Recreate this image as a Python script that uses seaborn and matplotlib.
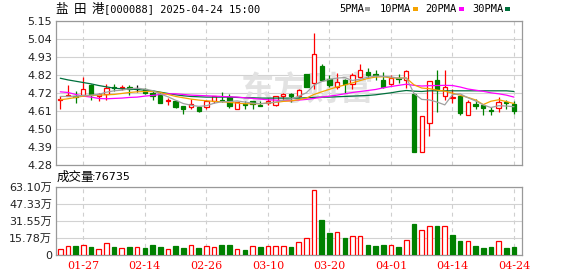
import numpy as np
import matplotlib
matplotlib.use("Agg")
import matplotlib.pyplot as plt
import seaborn as sns
from matplotlib.patches import Rectangle

# ---------------- data ----------------
opens = [4.672, 4.700, 4.700, 4.704, 4.766, 4.700, 4.712, 4.755, 4.748, 4.756,
         4.742, 4.740, 4.716, 4.704, 4.668, 4.670, 4.640, 4.635, 4.635, 4.631,
         4.668, 4.676, 4.692, 4.623, 4.648, 4.666, 4.646, 4.656, 4.642, 4.700,
         4.712, 4.696, 4.832, 4.776, 4.877, 4.800, 4.756, 4.796, 4.772, 4.816,
         4.845, 4.830, 4.796, 4.770, 4.810, 4.796, 4.712, 4.358, 4.535, 4.796,
         4.696, 4.685, 4.700, 4.583, 4.652, 4.646, 4.615, 4.626, 4.660, 4.652]
highs = [4.696, 4.766, 4.726, 4.812, 4.772, 4.715, 4.772, 4.772, 4.764, 4.766,
         4.764, 4.748, 4.726, 4.720, 4.686, 4.675, 4.640, 4.680, 4.640, 4.676,
         4.700, 4.724, 4.712, 4.664, 4.666, 4.670, 4.670, 4.684, 4.698, 4.714,
         4.714, 4.740, 4.832, 5.082, 4.891, 4.826, 4.840, 4.800, 4.836, 4.893,
         4.865, 4.853, 4.846, 4.826, 4.830, 4.857, 4.716, 4.575, 4.792, 4.857,
         4.857, 4.740, 4.700, 4.676, 4.680, 4.650, 4.633, 4.692, 4.676, 4.666]
lows = [4.623, 4.700, 4.656, 4.700, 4.676, 4.668, 4.676, 4.730, 4.736, 4.704,
        4.724, 4.708, 4.676, 4.656, 4.642, 4.625, 4.591, 4.620, 4.605, 4.621,
        4.656, 4.662, 4.626, 4.620, 4.620, 4.620, 4.638, 4.646, 4.640, 4.666,
        4.660, 4.690, 4.756, 4.742, 4.790, 4.756, 4.740, 4.716, 4.742, 4.806,
        4.806, 4.796, 4.746, 4.766, 4.776, 4.746, 4.358, 4.358, 4.455, 4.605,
        4.672, 4.656, 4.583, 4.583, 4.623, 4.581, 4.581, 4.605, 4.621, 4.591]
closes = [4.680, 4.705, 4.695, 4.742, 4.706, 4.710, 4.750, 4.745, 4.752, 4.740,
          4.742, 4.716, 4.700, 4.656, 4.672, 4.635, 4.620, 4.650, 4.610, 4.668,
          4.700, 4.668, 4.640, 4.664, 4.642, 4.652, 4.640, 4.670, 4.698, 4.712,
          4.696, 4.736, 4.756, 4.953, 4.796, 4.766, 4.784, 4.772, 4.826, 4.855,
          4.828, 4.825, 4.756, 4.806, 4.800, 4.847, 4.358, 4.575, 4.792, 4.736,
          4.752, 4.690, 4.595, 4.664, 4.640, 4.626, 4.611, 4.660, 4.654, 4.611]
volumes = [56000, 87000, 87000, 93000, 75000, 56000, 109000, 75000, 65000, 75000,
           75000, 65000, 93000, 75000, 56000, 84000, 65000, 93000, 65000, 84000,
           75000, 93000, 93000, 56000, 47000, 84000, 75000, 84000, 84000, 84000,
           75000, 118000, 156000, 598000, 327000, 206000, 212000, 156000, 174000, 174000,
           93000, 84000, 93000, 90000, 75000, 137000, 290000, 230000, 268000, 268000,
           268000, 187000, 131000, 128000, 84000, 65000, 75000, 128000, 65000, 76735]
ma5 = [4.696, 4.696, 4.698, 4.702, 4.704, 4.708, 4.722, 4.730, 4.734, 4.742,
       4.746, 4.740, 4.731, 4.711, 4.694, 4.673, 4.653, 4.643, 4.636, 4.640,
       4.655, 4.664, 4.665, 4.669, 4.662, 4.656, 4.652, 4.656, 4.662, 4.674,
       4.680, 4.697, 4.718, 4.765, 4.786, 4.799, 4.807, 4.810, 4.792, 4.801,
       4.812, 4.819, 4.817, 4.814, 4.806, 4.808, 4.714, 4.678, 4.675, 4.662,
       4.645, 4.707, 4.712, 4.688, 4.669, 4.645, 4.629, 4.640, 4.638, 4.634]
ma10 = [4.676, 4.682, 4.690, 4.698, 4.702, 4.704, 4.706, 4.708, 4.714, 4.720,
        4.724, 4.726, 4.726, 4.720, 4.708, 4.696, 4.688, 4.680, 4.674, 4.670,
        4.666, 4.664, 4.660, 4.656, 4.652, 4.652, 4.652, 4.656, 4.660, 4.666,
        4.669, 4.676, 4.686, 4.708, 4.724, 4.739, 4.754, 4.765, 4.778, 4.792,
        4.805, 4.813, 4.815, 4.808, 4.807, 4.807, 4.766, 4.747, 4.743, 4.734,
        4.728, 4.716, 4.703, 4.690, 4.675, 4.647, 4.667, 4.676, 4.665, 4.653]
ma20 = [4.724, 4.720, 4.708, 4.698, 4.692, 4.684, 4.682, 4.684, 4.686, 4.690,
        4.692, 4.698, 4.702, 4.708, 4.712, 4.712, 4.708, 4.704, 4.702, 4.700,
        4.698, 4.696, 4.694, 4.692, 4.688, 4.684, 4.680, 4.676, 4.674, 4.670,
        4.670, 4.674, 4.678, 4.684, 4.692, 4.698, 4.704, 4.712, 4.720, 4.726,
        4.732, 4.738, 4.748, 4.756, 4.763, 4.770, 4.763, 4.759, 4.761, 4.762,
        4.763, 4.762, 4.753, 4.741, 4.734, 4.727, 4.718, 4.712, 4.704, 4.692]
ma30 = [4.806, 4.796, 4.788, 4.780, 4.772, 4.762, 4.754, 4.746, 4.742, 4.740,
        4.738, 4.734, 4.730, 4.722, 4.714, 4.706, 4.700, 4.696, 4.694, 4.692,
        4.692, 4.692, 4.692, 4.690, 4.688, 4.688, 4.686, 4.686, 4.686, 4.686,
        4.686, 4.686, 4.688, 4.690, 4.692, 4.692, 4.694, 4.696, 4.698, 4.700,
        4.702, 4.706, 4.712, 4.718, 4.726, 4.732, 4.728, 4.726, 4.730, 4.730,
        4.730, 4.730, 4.730, 4.730, 4.730, 4.730, 4.730, 4.730, 4.730, 4.726]

date_tick_pos = [3, 11, 19, 27, 35, 43, 51, 59]
date_tick_labels = ["01-27", "02-14", "02-26", "03-10", "03-20", "04-01", "04-14", "04-24"]
price_min, price_max = 4.28, 5.15
price_tick_labels = ["4.28", "4.39", "4.50", "4.61", "4.72", "4.82", "4.93", "5.04", "5.15"]
vol_max = 631000
vol_tick_labels = ["0", "15.78万", "31.55万", "47.33万", "63.10万"]
ma_names = ["5PMA", "10PMA", "20PMA", "30PMA"]
ma_colors = ["#a0a0a0", "#f5a300", "#ff00ff", "#00703c"]
title_chars = ["盐", "田", "港"]
title_rest = "[000088] 2025-04-24 15:00"
vol_label = "成交量"
last_volume_text = ":76735"
watermark = "东方财富"

RED = "#ff0000"
GREEN = "#008000"

# ---------------- figure ----------------
sns.set_theme(style="white")
plt.rcParams["font.family"] = ["DejaVu Sans", "Noto Sans CJK SC"]

W, H = 578, 276
fig = plt.figure(figsize=(W / 100, H / 100), dpi=100)
fig.patch.set_facecolor("white")


def fx(px):
    return px / W


def fy(py):
    return 1 - py / H


L, R = 55.5, 522.3
ax1 = fig.add_axes([fx(L), fy(165.3), (R - L) / W, (165.3 - 21.3) / H])
ax2 = fig.add_axes([fx(L), fy(255.0), (R - L) / W, (255.0 - 186.8) / H])

n = len(closes)
x = np.arange(n)
o = np.array(opens)
c = np.array(closes)
h = np.array(highs)
lo = np.array(lows)
xlim = (-0.62, 60.08)

# ---- candles ----
up = c > o
down = c < o
cols = np.where(up, RED, np.where(down, GREEN, "black"))
faces = np.where(up, "white", cols)
body_lo = np.minimum(o, c)
body_hi = np.maximum(o, c)
ax1.vlines(x, body_hi, h, colors=cols, lw=0.9, zorder=3)
ax1.vlines(x, lo, body_lo, colors=cols, lw=0.9, zorder=3)
ax1.bar(x, body_hi - body_lo, bottom=body_lo, width=0.56, color=faces,
        edgecolor=cols, linewidth=0.9, zorder=4)

# ---- moving averages ----
for ma, col in zip([ma30, ma20, ma10, ma5], ma_colors[::-1]):
    sns.lineplot(x=x, y=ma, ax=ax1, color=col, lw=0.9, legend=False, zorder=5)

ax1.text((307 - L) / (R - L), (165.3 - 91) / 144, watermark, transform=ax1.transAxes,
         ha="center", va="center", fontsize=24, fontweight="bold",
         family=["Noto Sans CJK SC"], color="#e2e2e2", zorder=0.6)

ax1.set_xlim(*xlim)
ax1.set_ylim(price_min, price_max)
ax1.set_yticks(np.linspace(price_min, price_max, len(price_tick_labels)))
ax1.set_yticklabels(price_tick_labels)
ax1.set_xticks(date_tick_pos)
ax1.set_xticklabels([])
ax1.set_xlabel("")
ax1.set_ylabel("")

# ---- volume ----
prev = np.concatenate([[c[0]], c[:-1]])
vup = c >= prev
vcols = np.where(vup, RED, GREEN)
vfaces = np.where(vup, "white", GREEN)
ax2.bar(x, volumes, width=0.6, color=vfaces, edgecolor=vcols, linewidth=0.9, zorder=3)
ax2.set_xlim(*xlim)
ax2.set_ylim(0, vol_max)
ax2.set_yticks(np.linspace(0, vol_max, len(vol_tick_labels)))
ax2.set_yticklabels(vol_tick_labels)
ax2.set_xticks(date_tick_pos)
ax2.set_xticklabels(date_tick_labels, color=RED, family=["DejaVu Serif"], fontsize=8)

for ax in (ax1, ax2):
    ax.set_facecolor("white")
    ax.grid(axis="y", color="#d2d2d2", lw=0.8, ls="-")
    ax.grid(axis="x", color="#cfcfcf", lw=0.8, ls=(0, (3.5, 3.5)))
    ax.set_axisbelow(True)
    for sp in ax.spines.values():
        sp.set_visible(True)
        sp.set_color("#999999")
        sp.set_linewidth(0.9)
    ax.tick_params(axis="y", length=0, pad=2.4, labelsize=8, labelcolor="#222222")
    ax.tick_params(axis="x", length=0, pad=4.5)

# ---- header texts ----
for ch, px in zip(title_chars, [55.5, 73.5, 91.5]):
    fig.text(fx(px), fy(9), ch, ha="left", va="center", fontsize=9,
             family=["Noto Sans CJK SC"], color="black")
fig.text(fx(104.5), fy(9), title_rest, ha="left", va="center", fontsize=7.5,
         family=["DejaVu Sans Mono"], color="black")

leg_text_x = [339, 380, 425, 472]
leg_sw_x = [365, 413, 459, 505]
for name, col, tx, sx in zip(ma_names, ma_colors, leg_text_x, leg_sw_x):
    fig.text(fx(tx), fy(9), name, ha="left", va="center", fontsize=7.5,
             family=["DejaVu Sans Mono"], color="black")
    fig.patches.append(Rectangle((fx(sx), fy(11)), 5 / W, 4 / H, transform=fig.transFigure,
                                 facecolor=col, edgecolor="none"))

fig.text(fx(57), fy(177.5), vol_label, ha="left", va="center", fontsize=9,
         family=["Noto Sans CJK SC"], color="black")
fig.text(fx(92), fy(177.5), last_volume_text, ha="left", va="center", fontsize=8,
         family=["DejaVu Sans"], color="black")

fig.savefig("out.png", dpi=100, facecolor="white")
